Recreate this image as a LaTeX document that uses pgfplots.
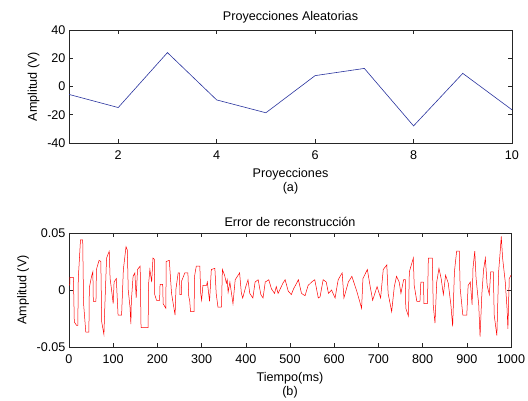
\documentclass[border=0pt]{standalone}
\usepackage{pgfplots}
\pgfplotsset{compat=1.18}
\usepackage{fontspec}
\setmainfont{Liberation Sans}
\definecolor{mblue}{rgb}{0.16,0.2,0.62}
\begin{document}
\begin{tikzpicture}[x=1pt,y=1pt]
\path[use as bounding box] (0,0) rectangle (528,401);
\pgfplotsset{every axis/.append style={
  scale only axis,
  font=\fontsize{12.6}{14.5}\selectfont,
  /pgf/number format/assume math mode=true,
  /pgf/number format/1000 sep={},
  scaled y ticks=false,
  axis line style={line width=0.9pt, black!85},
  every tick/.style={black!85, line width=0.6pt},
  tick align=inside,
  major tick length=4pt,
  title style={yshift=-3pt},
  xlabel style={align=center, yshift=-2pt},
  ylabel style={yshift=1pt},
  xticklabel style={yshift=-4pt},
}}
\begin{axis}[
  at={(69pt,258pt)}, anchor=south west,
  width=443pt, height=113pt,
  xmin=1, xmax=10, ymin=-40, ymax=40,
  xtick={2,4,6,8,10}, ytick={-40,-20,0,20,40},
  yticklabels={-40,-20,0,20,40},
  title={Proyecciones Aleatorias},
  xlabel={Proyecciones\\(a)},
  ylabel={Amplitud (V)},
]
\addplot[mblue, line width=0.6pt] coordinates {
(1,-5.6) (2,-14.9) (3,24) (4,-9.5) (5,-18.6) (6,7.7) (7,12.8) (8,-27.9) (9,9.3) (10,-16.5)};
\end{axis}
\begin{axis}[
  at={(69pt,54pt)}, anchor=south west,
  width=442pt, height=114pt,
  xmin=0, xmax=1000, ymin=-0.05, ymax=0.05,
  xtick={0,100,...,1000}, ytick={-0.05,0,0.05},
  xticklabels={0,100,200,300,400,500,600,700,800,900,1000},
  yticklabels={-0.05,0,0.05},
  title={Error de reconstrucción},
  xlabel={Tiempo(ms)\\(b)},
  ylabel={Amplitud (V)},
]
\addplot[red, line width=0.5pt] coordinates {
(0,0.004) (2,0.005) (2,0.011) (10,0.011) (12,-0.028) (17,-0.031) (20,-0.031)
(21,0.010) (26,0.044) (31,0.044) (33,-0.012) (38,-0.037) (45,-0.037)
(46,0.002) (51,0.012) (54,0.016) (55,-0.010) (61,-0.010) (62,0.018) (68,0.026)
(72,0.025) (74,-0.028) (79,-0.039) (81,-0.015) (85,0.028) (91,0.034) (93,0.010)
(96,0.001) (100,-0.012) (102,0.007) (107,0.010) (111,-0.022) (119,-0.022)
(123,0.018) (129,0.038) (132,0.035) (134,0.000) (138,-0.015) (140,-0.030)
(141,-0.010) (145,0.012) (149,0.015) (152,-0.007) (155,0.018) (161,0.021)
(163,-0.033) (179,-0.033) (180,0.005) (183,0.018) (187,0.007) (190,0.028)
(193,0.027) (194,-0.004) (198,-0.009) (205,-0.009) (206,0.005) (212,0.005)
(213,-0.012) (219,-0.016) (220,0.025) (227,0.026) (229,0.014) (232,-0.003)
(240,-0.022) (242,0.001) (247,0.015) (250,0.015) (251,-0.004) (254,-0.004)
(255,0.008) (262,0.015) (269,0.015) (271,-0.006) (273,-0.009) (275,-0.019)
(283,-0.019) (284,0.012) (288,0.021) (296,0.021) (298,-0.003) (300,-0.009)
(303,0.004) (311,0.004) (313,0.007) (318,-0.010) (322,0.018) (330,0.019)
(333,-0.003) (337,-0.015) (345,-0.015) (347,0.018) (352,0.013) (356,0.006)
(358,0.009) (360,-0.002) (364,0.007) (371,-0.012) (376,0.009) (386,0.015)
(390,-0.003) (393,-0.007) (400,0.003) (405,0.009) (409,-0.003) (416,-0.007)
(421,0.007) (428,0.009) (434,-0.004) (439,-0.007) (444,0.007) (452,0.009)
(458,0.001) (465,-0.003) (469,0.003) (473,-0.003) (484,0.006) (489,0.009)
(496,-0.001) (503,-0.004) (508,0.001) (515,0.006) (519,0.009) (526,-0.003)
(534,-0.005) (541,0.004) (549,0.007) (556,0.009) (564,-0.007) (568,-0.006)
(575,0.009) (582,0.007) (587,-0.003) (594,0.000) (602,-0.007) (609,0.009)
(618,0.015) (622,-0.007) (632,0.007) (640,0.012) (651,-0.001) (662,-0.016)
(665,0.010) (675,0.018) (681,0.004) (687,-0.009) (697,0.003) (705,-0.007)
(711,0.018) (719,0.022) (722,-0.003) (730,-0.019) (736,0.003) (741,0.012)
(747,0.007) (751,-0.003) (757,0.009) (761,0.009) (762,-0.016) (768,-0.023)
(770,0.016) (779,0.028) (781,0.004) (787,-0.010) (794,-0.010) (796,0.007)
(802,0.007) (803,-0.012) (811,-0.012) (813,0.028) (822,0.028) (824,-0.013)
(828,-0.029) (832,0.007) (837,0.019) (842,0.010) (847,-0.004) (852,0.013)
(858,0.006) (864,-0.013) (868,-0.032) (872,0.016) (877,0.034) (883,0.034)
(885,0.0015) (891,-0.022) (900,-0.022) (903,0.004) (908,0.007) (912,-0.013)
(914,0.019) (918,0.034) (921,0.010) (927,-0.013) (930,-0.041) (934,-0.004)
(938,0.018) (942,0.028) (946,0.004) (951,-0.004) (954,0.016) (960,0.016)
(962,-0.022) (968,-0.040) (972,0.016) (975,0.031) (978,0.047) (981,0.028)
(987,0.007) (991,-0.016) (993,-0.034) (996,0.010) (1000,0.013)};
\end{axis}
\end{tikzpicture}
\end{document}
